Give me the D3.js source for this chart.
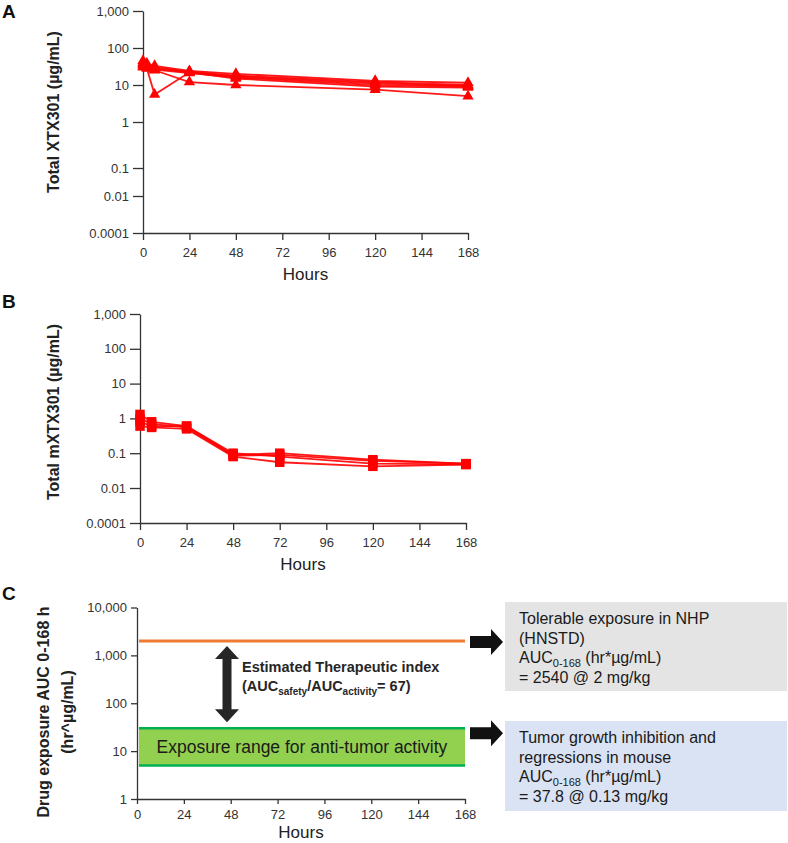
<!DOCTYPE html>
<html>
<head>
<meta charset="utf-8">
<script src="https://cdn.jsdelivr.net/npm/d3@7"></script>
<style>
  body { margin: 0; background: #fff; }
  svg { display: block; font-family: "Liberation Sans", Arial, sans-serif; }
</style>
</head>
<body>
<div id="chart"></div>
<script>
// ---- data ----
const hoursA = [0, 2, 6, 24, 48, 120, 168];
const xtxSeries = [
  [45, 38, 33, 24, 20, 13, 11.5],
  [40, 35, 30, 23, 18, 12, 10],
  [35, 32, 28, 22, 17, 11, 9.5],
  [32, 30, 26, 21, 16, 10, 9],
  [30, 28, 5.5, 22, 15, 9, 8.5],
  [38, 30, 25, 12, 10, 7.5, 5]
];
const hoursB = [0, 6, 24, 48, 72, 120, 168];
const mxtxSeries = [
  [1.3, 0.8, 0.6, 0.09, 0.1, 0.065, 0.05],
  [1.0, 0.7, 0.55, 0.085, 0.09, 0.06, 0.05],
  [0.8, 0.6, 0.6, 0.1, 0.08, 0.05, 0.048],
  [0.6, 0.55, 0.5, 0.08, 0.055, 0.042, 0.047]
];
const hourTicks = [0, 24, 48, 72, 96, 120, 144, 168];
const concTicks = [0.0001, 0.01, 0.1, 1, 10, 100, 1000];
const concTickLabels = ["0.0001", "0.01", "0.1", "1", "10", "100", "1,000"];
const aucTicks = [1, 10, 100, 1000, 10000];
const hnstdAuc = 2000;          // orange line
const activityRange = [5, 30];  // green band
const nhpBoxLines = ["Tolerable exposure in NHP", "(HNSTD)", "AUC|0-168| (hr*µg/mL)", "= 2540 @ 2 mg/kg"];
const mouseBoxLines = ["Tumor growth inhibition and", "regressions in mouse", "AUC|0-168| (hr*µg/mL)", "= 37.8 @ 0.13 mg/kg"];

const W = 788, H = 843;
const RED = "#ff0000", AXIS = "#333";

const svg = d3.select("#chart").append("svg")
  .attr("width", W).attr("height", H)
  .attr("viewBox", `0 0 ${W} ${H}`);

function styleAxis(g) {
  g.selectAll("path, line").attr("stroke", AXIS).attr("stroke-width", 1.3);
  g.selectAll("text").attr("fill", "#333").attr("font-size", 13)
    .attr("font-family", "Liberation Sans, Arial, sans-serif");
}

function panelLabel(txt, x, y) {
  svg.append("text").attr("x", x).attr("y", y).text(txt)
    .attr("font-size", 19).attr("font-weight", "bold").attr("fill", "#111");
}

function yTitle(lines, cx, cy, gap) {
  lines.forEach((t, i) => {
    svg.append("text")
      .attr("transform", `translate(${cx + i * gap},${cy}) rotate(-90)`)
      .attr("text-anchor", "middle").attr("dy", "0.35em")
      .attr("font-size", 16).attr("font-weight", "bold").attr("fill", "#222")
      .text(t);
  });
}

function xAxis(x, yPos, tick, pad, hoursY) {
  const g = svg.append("g").attr("transform", `translate(0,${yPos})`)
    .call(d3.axisBottom(x).tickValues(hourTicks).tickSize(tick).tickSizeOuter(0).tickPadding(pad));
  styleAxis(g);
  const [r0, r1] = x.range();
  svg.append("text").attr("x", (r0 + r1) / 2).attr("y", hoursY)
    .attr("text-anchor", "middle").attr("font-size", 17).attr("fill", "#222").text("Hours");
}

// piecewise scale on log10 values, so the uneven tick spacing of the figure is kept
function concPanel(hours, series, x, y, symbolType, symSize) {
  const g = svg.append("g").attr("transform", `translate(${x.range()[0]},0)`)
    .call(d3.axisLeft(y).tickValues(concTicks.map(Math.log10))
      .tickFormat((d, i) => concTickLabels[i]).tickSize(10).tickSizeOuter(0).tickPadding(4));
  styleAxis(g);
  const line = d3.line().x(d => x(d[0])).y(d => y(Math.log10(d[1])));
  const sym = d3.symbol().type(symbolType).size(symSize);
  series.forEach(s => {
    const pts = s.map((v, i) => [hours[i], v]);
    svg.append("path").datum(pts).attr("d", line)
      .attr("fill", "none").attr("stroke", RED).attr("stroke-width", 1.8).attr("stroke-opacity", 0.9);
    svg.append("g").selectAll("path").data(pts).join("path")
      .attr("transform", d => `translate(${x(d[0])},${y(Math.log10(d[1]))})`)
      .attr("d", sym).attr("fill", RED);
  });
}

// ---------- Panel A ----------
const xA = d3.scaleLinear().domain([0, 168]).range([143, 468]);
const yA = d3.scaleLinear().domain([-4, -2, -1, 0, 3]).range([233, 196, 168, 122, 11]);
panelLabel("A", 2, 18);
yTitle(["Total XTX301 (µg/mL)"], 53, 112, 0);
concPanel(hoursA, xtxSeries, xA, yA, d3.symbolTriangle, 55);
xAxis(xA, 233, 7, 8, 280);

// ---------- Panel B ----------
const xB = d3.scaleLinear().domain([0, 168]).range([140, 466]);
const yB = d3.scaleLinear().domain([-4, -2, 3]).range([523, 488, 314]);
panelLabel("B", 2, 308);
yTitle(["Total mXTX301 (µg/mL)"], 53, 412, 0);
concPanel(hoursB, mxtxSeries, xB, yB, d3.symbolSquare, 90);
xAxis(xB, 523, 7, 8, 570);

// ---------- Panel C ----------
const xC = d3.scaleLinear().domain([0, 168]).range([137, 465]);
const yC = d3.scaleLog().domain([1, 10000]).range([799, 607.5]);
panelLabel("C", 2, 600);
yTitle(["Drug exposure AUC 0-168 h", "(hr^µg/mL)"], 43, 712, 24);

const gyC = svg.append("g").attr("transform", `translate(${xC(0)},0)`)
  .call(d3.axisLeft(yC).tickValues(aucTicks).tickFormat(d3.format(",")).tickSize(6).tickSizeOuter(0).tickPadding(4));
styleAxis(gyC);

// green activity band
svg.append("rect")
  .attr("x", xC(1)).attr("width", xC(168) - xC(1))
  .attr("y", yC(activityRange[1])).attr("height", yC(activityRange[0]) - yC(activityRange[1]))
  .attr("fill", "#92d050");
activityRange.forEach(v => {
  svg.append("line").attr("x1", xC(1)).attr("x2", xC(168))
    .attr("y1", yC(v)).attr("y2", yC(v))
    .attr("stroke", "#00b050").attr("stroke-width", 2.5);
});
svg.append("text")
  .attr("x", (xC(1) + xC(168)) / 2).attr("y", yC(Math.sqrt(activityRange[0] * activityRange[1])))
  .attr("dy", "0.35em").attr("text-anchor", "middle")
  .attr("font-size", 17.5).attr("fill", "#1a1a1a")
  .text("Exposure range for anti-tumor activity");

// orange HNSTD line
svg.append("line").attr("x1", xC(1)).attr("x2", xC(168))
  .attr("y1", yC(hnstdAuc)).attr("y2", yC(hnstdAuc))
  .attr("stroke", "#f07b32").attr("stroke-width", 3);

xAxis(xC, 799, 5, 6, 838);

// double arrow (therapeutic index)
const ax = 227, aTop = yC(hnstdAuc) + 5, aBot = yC(activityRange[1]) - 6;
const sh = 4.5, hw = 12, hh = 13;
svg.append("path")
  .attr("d", `M${ax},${aTop} L${ax + hw},${aTop + hh} L${ax + sh},${aTop + hh} L${ax + sh},${aBot - hh}
              L${ax + hw},${aBot - hh} L${ax},${aBot} L${ax - hw},${aBot - hh} L${ax - sh},${aBot - hh}
              L${ax - sh},${aTop + hh} L${ax - hw},${aTop + hh} Z`)
  .attr("fill", "#262626");

const ti = svg.append("g").attr("font-weight", "bold").attr("font-size", 14.5).attr("fill", "#262626");
ti.append("text").attr("x", 242).attr("y", 672).text("Estimated Therapeutic index");
const t2 = ti.append("text").attr("x", 242).attr("y", 691);
t2.append("tspan").text("(AUC");
t2.append("tspan").attr("font-size", 10).attr("dy", 4).text("safety");
t2.append("tspan").attr("dy", -4).text("/AUC");
t2.append("tspan").attr("font-size", 10).attr("dy", 4).text("activity");
t2.append("tspan").attr("dy", -4).text("= 67)");

// right-hand boxes with block arrows
function noteBox(lines, y0, y1, fill, arrowY) {
  svg.append("rect").attr("x", 505).attr("y", y0).attr("width", 282).attr("height", y1 - y0).attr("fill", fill);
  const t = svg.append("g").attr("font-size", 16).attr("fill", "#1a1a1a");
  lines.forEach((ln, i) => {
    const el = t.append("text").attr("x", 519).attr("y", y0 + 22 + i * 19.5);
    const parts = ln.split("|");
    parts.forEach((p, j) => {
      const sp = el.append("tspan").text(p);
      if (j === 1) sp.attr("font-size", 11).attr("dy", 3.5);
      if (j === 2) sp.attr("dy", -3.5);
    });
  });
  const x0 = 470, xh = 491, xt = 503;
  svg.append("path")
    .attr("d", `M${x0},${arrowY - 6} L${xh},${arrowY - 6} L${xh},${arrowY - 13} L${xt},${arrowY}
                L${xh},${arrowY + 13} L${xh},${arrowY + 6} L${x0},${arrowY + 6} Z`)
    .attr("fill", "#111");
}
noteBox(nhpBoxLines, 602, 691, "#e4e4e4", yC(hnstdAuc) + 1);
noteBox(mouseBoxLines, 721, 811, "#dae3f3", yC(activityRange[1]) + 5);
</script>
</body>
</html>
